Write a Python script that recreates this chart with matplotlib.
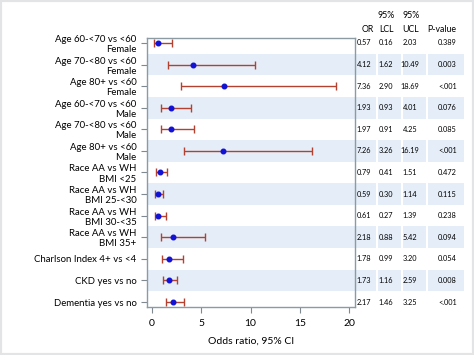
import matplotlib
matplotlib.use("Agg")
import matplotlib.pyplot as plt
from matplotlib.patches import Rectangle
from matplotlib.transforms import blended_transform_factory

labels = [
    "Age 60-<70 vs <60\nFemale",
    "Age 70-<80 vs <60\nFemale",
    "Age 80+ vs <60\nFemale",
    "Age 60-<70 vs <60\nMale",
    "Age 70-<80 vs <60\nMale",
    "Age 80+ vs <60\nMale",
    "Race AA vs WH\nBMI <25",
    "Race AA vs WH\nBMI 25-<30",
    "Race AA vs WH\nBMI 30-<35",
    "Race AA vs WH\nBMI 35+",
    "Charlson Index 4+ vs <4",
    "CKD yes vs no",
    "Dementia yes vs no",
]
or_vals = [0.57, 4.12, 7.36, 1.93, 1.97, 7.26, 0.79, 0.59, 0.61, 2.18, 1.78, 1.73, 2.17]
lcl_vals = [0.16, 1.62, 2.90, 0.93, 0.91, 3.26, 0.41, 0.30, 0.27, 0.88, 0.99, 1.16, 1.46]
ucl_vals = [2.03, 10.49, 18.69, 4.01, 4.25, 16.19, 1.51, 1.14, 1.39, 5.42, 3.20, 2.59, 3.25]
p_vals = ["0.389", "0.003", "<.001", "0.076", "0.085", "<.001", "0.472",
          "0.115", "0.238", "0.094", "0.054", "0.008", "<.001"]
xticks = [0, 5, 10, 15, 20]

FONT = "Lato"
plt.rcParams["font.family"] = [FONT, "DejaVu Sans"]

W, H = 474, 355
fig = plt.figure(figsize=(W / 100, H / 100), dpi=100)
ax = fig.add_axes([147 / W, 1 - 307 / H, (355 - 147) / W, (307 - 38) / H])

n = len(labels)
ys = list(range(n))
band = "#e4edf8"
for i in ys:
    if i % 2 == 1:
        ax.axhspan(i - 0.5, i + 0.5, color=band, lw=0, zorder=0)

xerr = [[o - l for o, l in zip(or_vals, lcl_vals)], [u - o for o, u in zip(or_vals, ucl_vals)]]
ax.errorbar(or_vals, ys, xerr=xerr, fmt="none", ecolor="#b4412f", elinewidth=1.0,
            capsize=2.8, capthick=1.0, zorder=2)
ax.plot(or_vals, ys, "o", color="#1212d6", markersize=3.3, zorder=3)

ax.set_xlim(-0.5, 20.6)
ax.set_ylim(n - 1 + 0.23, -0.23)
ax.set_yticks(ys)
ax.set_yticklabels(labels, fontsize=6.9, ha="right", linespacing=1.15)
ax.set_xticks(xticks)
ax.set_xticklabels([str(t) for t in xticks], fontsize=7.5)
ax.set_xlabel("Odds ratio, 95% CI", fontsize=7.5, labelpad=6)
ax.tick_params(axis="both", direction="out", length=4, color="#808890", width=0.8)
ax.tick_params(axis="x", pad=5)
for s in ax.spines.values():
    s.set_color("#8c9aa4")
    s.set_linewidth(1.0)

# table on the right
tr = blended_transform_factory(fig.transFigure, ax.transData)
cols = [(356, 376), (378, 401), (403, 426), (428, 464)]
for i in ys:
    if i % 2 == 1:
        for x0, x1 in cols:
            ax.add_patch(Rectangle((x0 / W, i - 0.5), (x1 - x0) / W, 1.0, transform=tr,
                                   facecolor=band, lw=0, clip_on=False, zorder=0))

centers = [364, 386, 410]
for i in ys:
    ax.text(centers[0] / W, i, f"{or_vals[i]:.2f}", transform=tr, fontsize=5.3,
            ha="center", va="center", clip_on=False)
    ax.text(centers[1] / W, i, f"{lcl_vals[i]:.2f}", transform=tr, fontsize=5.3,
            ha="center", va="center", clip_on=False)
    ax.text(centers[2] / W, i, f"{ucl_vals[i]:.2f}", transform=tr, fontsize=5.3,
            ha="center", va="center", clip_on=False)
    ax.text(457 / W, i, p_vals[i], transform=tr, fontsize=5.3,
            ha="right", va="center", clip_on=False)

hdr_y = 1 - 30 / H
fig.text(368 / W, hdr_y, "OR", fontsize=6.3, ha="center", va="center")
fig.text(386 / W, hdr_y, "LCL", fontsize=6.3, ha="center", va="center")
fig.text(411 / W, hdr_y, "UCL", fontsize=6.3, ha="center", va="center")
fig.text(456 / W, hdr_y, "P-value", fontsize=6.3, ha="right", va="center")
fig.text(386 / W, 1 - 16 / H, "95%", fontsize=6.3, ha="center", va="center")
fig.text(411 / W, 1 - 16 / H, "95%", fontsize=6.3, ha="center", va="center")

fig.patches.append(Rectangle((0, 0), 1, 1, transform=fig.transFigure, fill=False,
                             edgecolor="#e2e4e6", lw=3, zorder=10))

fig.savefig("out.png", dpi=100)
